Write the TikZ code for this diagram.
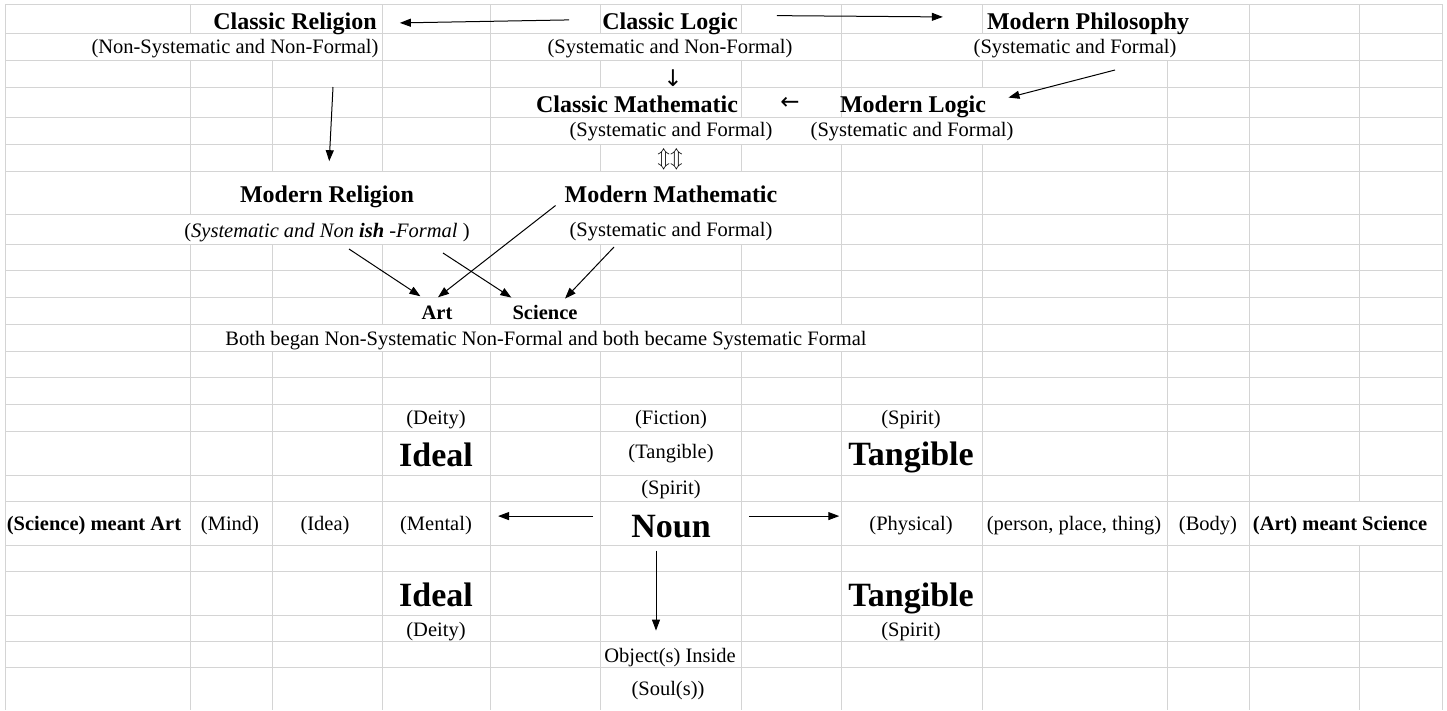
\documentclass[tikz,border=0pt]{standalone}
\usepackage{fontspec}
\setmainfont{Liberation Serif}
\newfontfamily\arrowfont{DejaVu Sans}
\usetikzlibrary{arrows.meta}

\tikzset{
  gline/.style={draw=black!17, line width=1pt},
  cell/.style={inner sep=0pt, anchor=base, font=\fontsize{20.5}{24}\selectfont},
  head/.style={cell, font=\fontsize{24}{28}\selectfont\bfseries},
  lab/.style={cell, font=\fontsize{20.5}{24}\selectfont\bfseries},
  big/.style={cell, font=\fontsize{34}{40}\selectfont\bfseries},
  glyph/.style={inner sep=0pt, anchor=center, font=\arrowfont\fontsize{23}{26}\selectfont},
  arr/.style={-{Triangle[length=11pt,width=8pt]}, line width=1pt}
}

\begin{document}
\begin{tikzpicture}[x=1pt, y=-1pt]
\fill[white] (0,0) rectangle (1447,710);
\foreach \y in {4,33,60,87,117,144,171,214,244,270,297,324,351,377,404,431,475,501,545,571,615,641,667}
  \draw[gline] (5,\y) -- (1442,\y);
\foreach \x/\ya/\yb in {5/4/710, 190/4/33, 190/60/214, 190/244/710, 272/60/171, 272/244/324, 272/351/710,
    382/4/171, 382/244/324, 382/351/710, 490/4/324, 490/351/710,
    600/4/33, 600/60/87, 600/144/171, 600/244/324, 600/351/710,
    741/4/33, 741/60/117, 741/144/171, 741/244/324, 741/351/710,
    841/4/117, 841/144/324, 841/351/710, 982/4/33, 982/60/87, 982/144/710,
    1167/60/710, 1249/4/710, 1359/4/501, 1359/545/710, 1442/4/710}
  \draw[gline] (\x,\ya) -- (\x,\yb);

\node[head] (creligion) at (295,29) {Classic Religion};
\node[cell] (creligionnote) at (235,53) {(Non-Systematic and Non-Formal)};
\node[head] (clogic) at (670,29) {Classic Logic};
\node[cell] (clogicnote) at (670,53) {(Systematic and Non-Formal)};
\node[head] (mphil) at (1088,29) {Modern Philosophy};
\node[cell] (mphilnote) at (1075,53) {(Systematic and Formal)};
\node[glyph] (darrow) at (673,78) {↓};
\node[head] (cmath) at (637,112) {Classic Mathematic};
\node[glyph] (larrow) at (790,103) {←};
\node[head] (mlogic) at (913,112) {Modern Logic};
\node[cell] (cmathnote) at (671,136) {(Systematic and Formal)};
\node[cell] (mlogicnote) at (912,136) {(Systematic and Formal)};
\node[glyph, font=\fontsize{20}{24}\selectfont] (updown) at (670,159) {$\Updownarrow\Updownarrow$};
\node[head] (mreligion) at (327,202) {Modern Religion};
\node[head] (mmath) at (671,202) {Modern Mathematic};
\node[cell] (rnote) at (327,237) {(\textit{Systematic and Non} \textbf{\textit{ish}} \textit{-Formal} )};
\node[cell] (mmathnote) at (671,236) {(Systematic and Formal)};
\node[lab] (art) at (437,319) {Art};
\node[lab] (science) at (545,319) {Science};
\node[cell] (both) at (546,345) {Both began Non-Systematic Non-Formal and both became Systematic Formal};

\node[cell] (deityA) at (436,424) {(Deity)};
\node[cell] (fiction) at (671,424) {(Fiction)};
\node[cell] (spiritA) at (911,424) {(Spirit)};
\node[big] (idealA) at (436,466) {Ideal};
\node[cell] (tangcell) at (671,458) {(Tangible)};
\node[big] (tangA) at (911,465) {Tangible};
\node[cell] (spiritB) at (671,494) {(Spirit)};
\node[lab] (sciart) at (94,530) {(Science) meant Art};
\node[cell] (mind) at (230,530) {(Mind)};
\node[cell] (idea) at (325,530) {(Idea)};
\node[cell] (mental) at (436,530) {(Mental)};
\node[big] (noun) at (671,537) {Noun};
\node[cell] (physical) at (911,530) {(Physical)};
\node[cell] (ppt) at (1074,530) {(person, place, thing)};
\node[cell] (body) at (1208,530) {(Body)};
\node[lab] (artsci) at (1340,530) {(Art) meant Science};
\node[big] (idealB) at (436,606) {Ideal};
\node[big] (tangB) at (911,606) {Tangible};
\node[cell] (deityB) at (436,636) {(Deity)};
\node[cell] (spiritC) at (911,636) {(Spirit)};
\node[cell] (inside) at (670,662) {Object(s) Inside};
\node[cell] (soul) at (668,695) {(Soul(s))};

\coordinate (ctail) at (333,87);
\coordinate (dtail) at (1115,70);
\coordinate (etail) at (349,249);
\coordinate (gtail) at (443,253);
\coordinate (htail) at (614,247);
\coordinate (nw) at ([yshift=10pt]noun.west);
\coordinate (ne) at ([yshift=10pt]noun.east);
\coordinate (ns) at ([xshift=-15pt]noun.south);

\draw[arr, shorten <=33pt, shorten >=23pt] ([yshift=4pt]clogic.west) -- (creligion.east);
\draw[arr, shorten <=39pt, shorten >=44pt] ([yshift=8pt]clogic.east) -- ([yshift=6pt]mphil.west);
\draw[arr, shorten >=24pt] (ctail) -- ([xshift=1pt]mreligion.north);
\draw[arr, shorten >=23pt] (dtail) -- ([yshift=3pt]mlogic.east);
\draw[arr] (etail) -- ([shift={(-1,-9)}]art.north west);
\draw[arr, shorten <=5pt] ([xshift=-5pt]mmath.south west) -- ([shift={(1,-8)}]art.north);
\draw[arr] (gtail) -- ([shift={(-1,-7)}]science.north west);
\draw[arr] (htail) -- ([shift={(20,-6)}]science.north);
\draw[arr, shorten <=38pt, shorten >=26pt] (nw) -- (nw -| mental.east);
\draw[arr, shorten <=38pt, shorten >=30pt] (ne) -- (ne -| physical.west);
\draw[arr, shorten <=13pt, shorten >=17pt] (ns) -- (ns |- inside.north);
\end{tikzpicture}
\end{document}
